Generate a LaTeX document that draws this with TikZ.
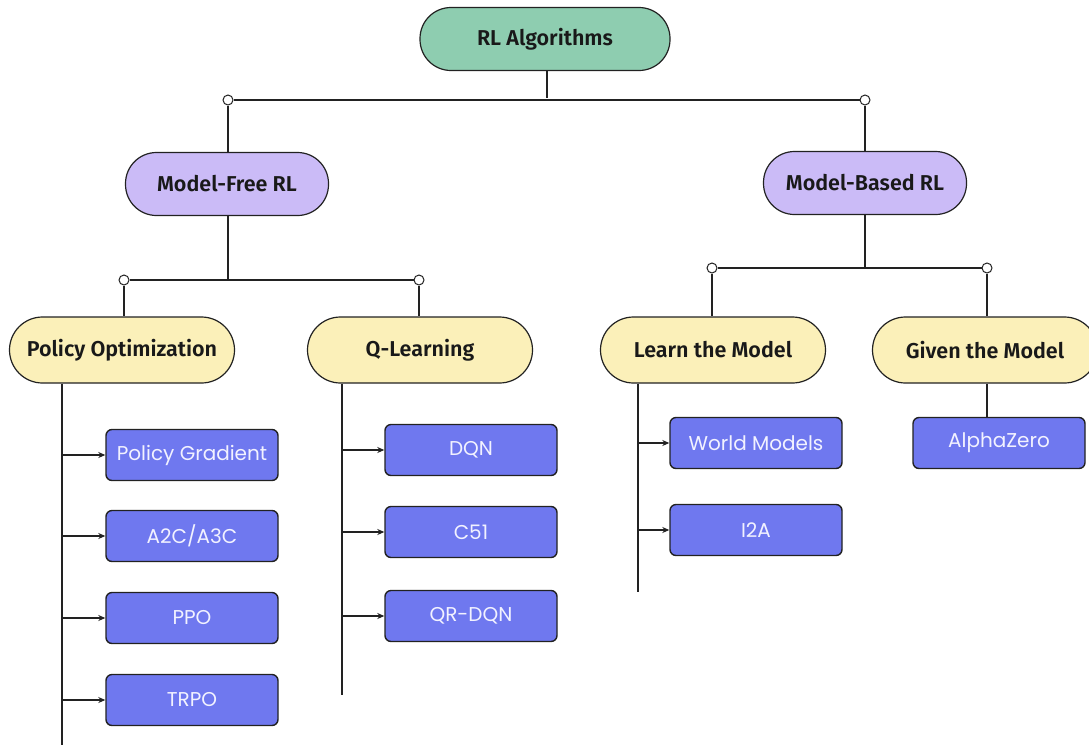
\documentclass[tikz,border=0pt]{standalone}
\usepackage{fontspec}
\setmainfont{Fira Sans}[BoldFont={Fira Sans SemiBold}]
\newfontfamily\leaffont{Poppins}
\usetikzlibrary{arrows.meta}
\definecolor{rootgreen}{HTML}{8ECDB0}
\definecolor{lavender}{HTML}{CBBBF7}
\definecolor{cream}{HTML}{FBF0B9}
\definecolor{leafblue}{HTML}{6F78EF}
\definecolor{leaftext}{HTML}{F2F2FF}
\definecolor{inkline}{HTML}{222222}
\begin{document}
\begin{tikzpicture}[x=1pt,y=-1pt,
  pill/.style={draw=inkline, line width=1.2pt, rounded corners=31pt,
    minimum height=63pt, font=\bfseries\fontsize{21.5}{24}\selectfont, text=black!90},
  rootpill/.style={pill, fill=rootgreen, minimum width=250pt},
  modelpill/.style={pill, fill=lavender, minimum width=203pt},
  catpill/.style={pill, fill=cream, minimum width=225pt, minimum height=66pt, rounded corners=33pt},
  leaf/.style={draw=inkline, line width=1.4pt, fill=leafblue, rounded corners=6pt,
    minimum width=172pt, minimum height=51pt, text=leaftext,
    font=\leaffont\fontsize{20}{23}\selectfont},
  wire/.style={draw=inkline, line width=1.6pt},
  feed/.style={wire, -{Stealth[length=7pt,width=6pt]}},
  joint/.style={circle, draw=inkline, fill=white, line width=1pt, inner sep=0pt, minimum size=10pt}
]
\useasboundingbox (0,0) rectangle (1089,745);
\clip (0,0) rectangle (1089,745);

% main nodes
\node[rootpill] (root) at (545,39) {RL Algorithms};
\node[modelpill] (mfree) at (227,184) {Model-Free RL};
\node[modelpill] (mbased) at (865,183) {Model-Based RL};
\node[catpill] (popt) at (122,350) {Policy Optimization};
\node[catpill] (qlearn) at (420,350) {Q-Learning};
\node[catpill] (learn) at (713,350) {Learn the Model};
\node[catpill] (given) at (985,350) {Given the Model};

% leaves
\node[leaf] (pg) at (192,455) {Policy Gradient};
\node[leaf] (a2c) at (192,536) {A2C/A3C};
\node[leaf] (ppo) at (192,618) {PPO};
\node[leaf] (trpo) at (192,700) {TRPO};
\node[leaf] (dqn) at (471,450) {DQN};
\node[leaf] (c51) at (471,532) {C51};
\node[leaf] (qrdqn) at (471,616) {QR-DQN};
\node[leaf] (wm) at (756,443) {World Models};
\node[leaf] (i2a) at (756,530) {I2A};
\node[leaf] (az) at (999,443) {AlphaZero};

% junction points
\coordinate (b1) at (547,98);
\node[joint] (j1l) at (228,100) {};
\node[joint] (j1r) at (865,100) {};
\coordinate (b2) at (228,280);
\node[joint] (j2l) at (124,280) {};
\node[joint] (j2r) at (419,280) {};
\coordinate (b3) at (865,268);
\node[joint] (j3l) at (712,268) {};
\node[joint] (j3r) at (987,268) {};

% first level
\draw[wire] (root.south -| b1) -- (b1);
\draw[wire] (j1l) -- (j1r);
\draw[wire] (j1l) -- (mfree.north -| j1l);
\draw[wire] (j1r) -- (mbased.north -| j1r);

% second level, model-free
\draw[wire] (mfree.south -| b2) -- (b2);
\draw[wire] (j2l) -- (j2r);
\draw[wire] (j2l) -- (popt.north -| j2l);
\draw[wire] (j2r) -- (qlearn.north -| j2r);

% second level, model-based
\draw[wire] (mbased.south -| b3) -- (b3);
\draw[wire] (j3l) -- (j3r);
\draw[wire] (j3l) -- (learn.north -| j3l);
\draw[wire] (j3r) -- (given.north -| j3r);

% spines
\coordinate (s1) at (62,745);
\coordinate (s2) at (342,695);
\coordinate (s3) at (638,592);
\draw[wire] (popt.south -| s1) -- (s1);
\draw[wire] (qlearn.south -| s2) -- (s2);
\draw[wire] (learn.south -| s3) -- (s3);
\draw[wire] (given.south -| j3r) -- (az.north -| j3r);

% arrows into leaves
\foreach \n in {pg,a2c,ppo,trpo} \draw[feed] (s1 |- \n.west) -- (\n.west);
\foreach \n in {dqn,c51,qrdqn} \draw[feed] (s2 |- \n.west) -- (\n.west);
\foreach \n in {wm,i2a} \draw[feed] (s3 |- \n.west) -- (\n.west);
\end{tikzpicture}
\end{document}
